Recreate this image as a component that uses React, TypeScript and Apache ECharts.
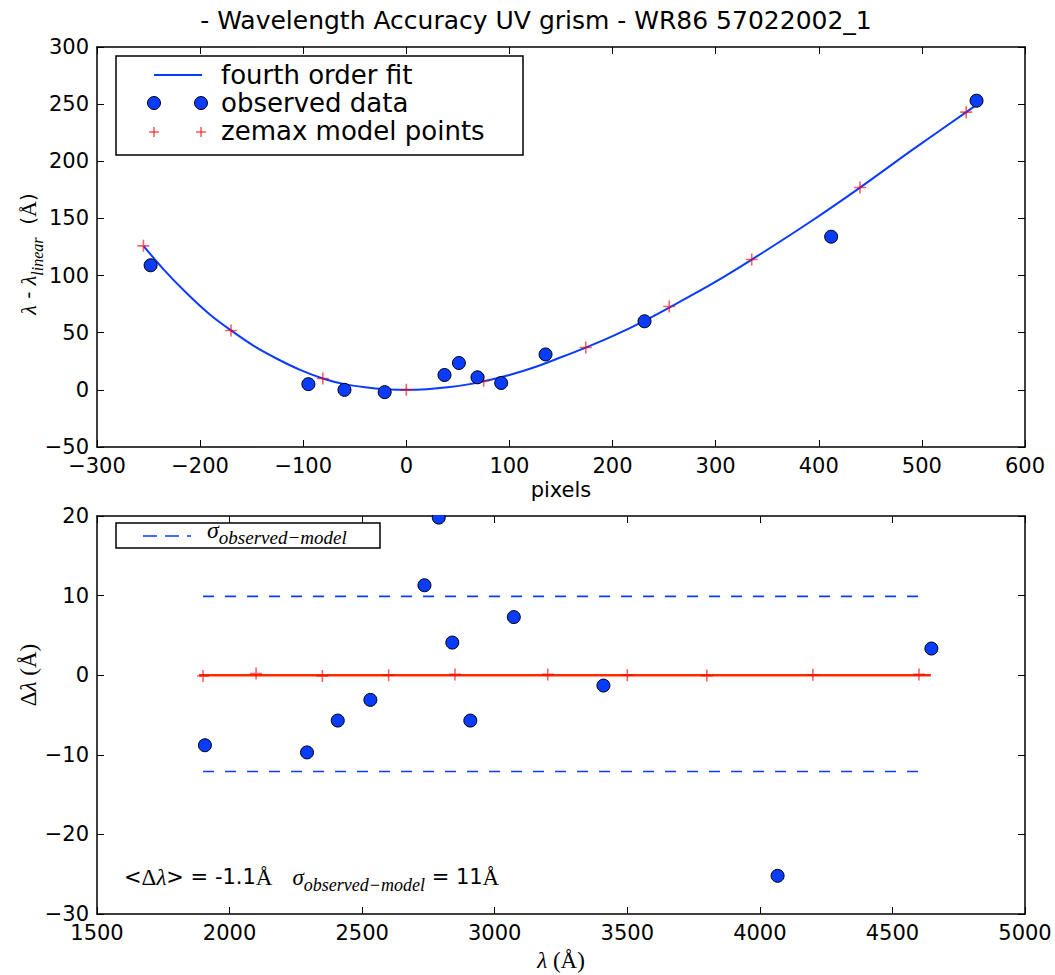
import React, { useEffect, useRef } from 'react';
import * as echarts from 'echarts';

// ---- top panel: pixel offset vs wavelength deviation ----
const fitX = [-255, -235, -213, -190, -170, -148, -125, -103, -81, -60, -40, -20, 0, 20, 40, 60, 75, 100, 125, 150, 174, 200, 230, 255, 295, 335, 390, 440, 490, 543, 551];
const fitY = [126, 105, 84.5, 65.5, 52, 38.5, 27, 17.5, 10, 5, 2.3, 0.6, 0, 0.6, 2.2, 4.8, 7.5, 13, 20, 28.5, 37, 47, 60, 72, 92, 114, 146, 177, 209.5, 243, 248];

const obsX = [-248, -95, -60, -21, 37, 51, 69, 92, 135, 231, 412, 553];
const obsY = [109, 5, 0, -2, 13, 23.5, 11, 6, 31, 60, 134, 253];

const zemX = [-255, -170, -81, 0, 75, 174, 255, 335, 440, 543];
const zemY = [126, 52, 10, 0, 8, 37, 73, 114, 177, 243];

// ---- bottom panel: residuals vs wavelength ----
const obsLambda = [1907, 2292, 2408, 2531, 2735, 2789, 2840, 2908, 3072, 3410, 4067, 4647];
const obsResid = [-8.8, -9.7, -5.7, -3.1, 11.3, 19.8, 4.1, -5.7, 7.3, -1.3, -25.2, 3.35];

const zemLambda = [1900, 2100, 2350, 2600, 2850, 3200, 3500, 3800, 4200, 4600];
const zemResid = [-0.1, 0.2, -0.1, 0, 0.1, 0.1, 0, -0.05, 0.05, 0.1];

const zeroLineX = [1885, 4645];
const zeroLineY = [0, 0];
const sigmaLineX = [1900, 4620];
const sigmaUpper = 9.9;
const sigmaLower = -12.1;

const BLUE = '#0a3cff';
const RED_PLUS = 'rgba(255,0,0,0.62)';
const PLUS = 'path://M0,5L10,5M5,0L5,10';
const SANS = 'DejaVu Sans';
const SERIF = 'Liberation Serif';

const zip = (xs: number[], ys: number[]) => xs.map((x, i) => [x, ys[i]]);
const minusFmt = (v: number) => (v < 0 ? '\u2212' + Math.abs(v) : String(v));

const richStyles = (size: number, subSize: number) => ({
  s: { fontFamily: SANS, fontSize: size, lineHeight: 34, color: '#000' },
  m: { fontFamily: SERIF, fontStyle: 'italic', fontSize: size + 2, lineHeight: 34, color: '#000' },
  r: { fontFamily: SERIF, fontSize: size + 2, lineHeight: 34, color: '#000' },
  sub: { fontFamily: SERIF, fontStyle: 'italic', fontSize: subSize, lineHeight: 17, verticalAlign: 'bottom', color: '#000' },
});

export default function App() {
  const ref = useRef<HTMLDivElement>(null);
  useEffect(() => {
    if (!ref.current) return;
    const chart = echarts.init(ref.current, undefined, { renderer: 'svg' });

    const axisBase = {
      type: 'value',
      axisLine: { show: true, onZero: false, lineStyle: { color: '#000', width: 1.5 } },
      axisTick: { show: true, inside: true, length: 7, lineStyle: { color: '#000', width: 1 } },
      splitLine: { show: false },
      axisLabel: { color: '#000', fontSize: 21, fontFamily: SANS, margin: 8, formatter: minusFmt },
    };
    const hidden = { axisLabel: { show: false } };

    const plusStyle = { color: 'none', borderColor: RED_PLUS, borderWidth: 1.6, opacity: 1 };
    const dotStyle = { color: BLUE, borderColor: '#000', borderWidth: 1, opacity: 1 };

    const option: any = {
      animation: false,
      backgroundColor: '#fff',
      grid: [
        { left: 97, top: 47, width: 928, height: 400 },
        { left: 97, top: 516, width: 928, height: 398 },
      ],
      xAxis: [
        { ...axisBase, gridIndex: 0, min: -300, max: 600, interval: 100, position: 'bottom' },
        { ...axisBase, ...hidden, gridIndex: 0, min: -300, max: 600, interval: 100, position: 'top' },
        { ...axisBase, gridIndex: 1, min: 1500, max: 5000, interval: 500, position: 'bottom' },
        { ...axisBase, ...hidden, gridIndex: 1, min: 1500, max: 5000, interval: 500, position: 'top' },
      ],
      yAxis: [
        { ...axisBase, gridIndex: 0, min: -50, max: 300, interval: 50, position: 'left' },
        { ...axisBase, ...hidden, gridIndex: 0, min: -50, max: 300, interval: 50, position: 'right' },
        { ...axisBase, gridIndex: 1, min: -30, max: 20, interval: 10, position: 'left' },
        { ...axisBase, ...hidden, gridIndex: 1, min: -30, max: 20, interval: 10, position: 'right' },
      ],
      series: [
        {
          name: 'fourth order fit', type: 'line', xAxisIndex: 0, yAxisIndex: 0,
          data: zip(fitX, fitY), smooth: 0.3, showSymbol: false, symbol: 'none',
          lineStyle: { color: BLUE, width: 2 }, z: 2,
        },
        {
          name: 'zemax model points', type: 'scatter', xAxisIndex: 0, yAxisIndex: 0,
          data: zip(zemX, zemY), symbol: PLUS, symbolSize: 12, itemStyle: plusStyle, z: 3,
        },
        {
          name: 'observed data', type: 'scatter', xAxisIndex: 0, yAxisIndex: 0,
          data: zip(obsX, obsY), symbol: 'circle', symbolSize: 13, itemStyle: dotStyle, z: 4,
        },
        {
          name: 'zero', type: 'line', xAxisIndex: 2, yAxisIndex: 2,
          data: zip(zeroLineX, zeroLineY), showSymbol: false, symbol: 'none',
          lineStyle: { color: '#ff2a00', width: 2.5 }, z: 2,
        },
        {
          name: 'sigma+', type: 'line', xAxisIndex: 2, yAxisIndex: 2,
          data: zip(sigmaLineX, sigmaLineX.map(() => sigmaUpper)), showSymbol: false, symbol: 'none',
          lineStyle: { color: BLUE, width: 1.6, type: [11, 11] }, z: 2,
        },
        {
          name: 'sigma-', type: 'line', xAxisIndex: 2, yAxisIndex: 2,
          data: zip(sigmaLineX, sigmaLineX.map(() => sigmaLower)), showSymbol: false, symbol: 'none',
          lineStyle: { color: BLUE, width: 1.6, type: [11, 11] }, z: 2,
        },
        {
          name: 'zemax resid', type: 'scatter', xAxisIndex: 2, yAxisIndex: 2,
          data: zip(zemLambda, zemResid), symbol: PLUS, symbolSize: 12, itemStyle: plusStyle, z: 3,
        },
        {
          name: 'observed resid', type: 'scatter', xAxisIndex: 2, yAxisIndex: 2,
          data: zip(obsLambda, obsResid), symbol: 'circle', symbolSize: 13, itemStyle: dotStyle, z: 4,
        },
      ],
      graphic: [
        // mask markers above bottom axes frame (matplotlib clipping)
        { type: 'rect', z: 100, shape: { x: 97, y: 503, width: 928, height: 12 }, style: { fill: '#fff' } },
        {
          type: 'text', x: 536, y: 20, z: 100,
          style: { text: '- Wavelength Accuracy UV grism - WR86 57022002_1', fontFamily: SANS, fontSize: 25, fill: '#000', align: 'center', verticalAlign: 'middle' },
        },
        {
          type: 'text', x: 561, y: 490, z: 100,
          style: { text: 'pixels', fontFamily: SANS, fontSize: 21, fill: '#000', align: 'center', verticalAlign: 'middle' },
        },
        {
          type: 'text', x: 28, y: 254, rotation: Math.PI / 2, z: 100,
          style: {
            text: '{m|λ}{s| - }{m|λ}{sub|linear}{s|  (}{r|Å}{s|)}', rich: richStyles(20, 16), align: 'center', verticalAlign: 'middle',
          },
        },
        {
          type: 'text', x: 28, y: 675, rotation: Math.PI / 2, z: 100,
          style: { text: '{r|Δ}{m|λ}{r| (Å)}', rich: richStyles(21, 17), align: 'center', verticalAlign: 'middle' },
        },
        {
          type: 'text', x: 561, y: 960, z: 100,
          style: { text: '{m|λ}{r| (Å)}', rich: richStyles(21, 17), align: 'center', verticalAlign: 'middle' },
        },
        {
          type: 'text', x: 124, y: 877, z: 100,
          style: {
            text: '{s|<}{r|Δ}{m|λ}{s|> = -1.1}{r|Å}{s|   }{m|σ}{sub|observed−model}{s| = 11}{r|Å}',
            rich: richStyles(21, 18), align: 'left', verticalAlign: 'middle',
          },
        },
        // top legend
        { type: 'rect', z: 100, shape: { x: 116, y: 56, width: 407, height: 99 }, style: { fill: '#fff', stroke: '#000', lineWidth: 1.5 } },
        { type: 'line', z: 101, shape: { x1: 154, y1: 75, x2: 202, y2: 75 }, style: { stroke: BLUE, lineWidth: 2 } },
        { type: 'circle', z: 101, shape: { cx: 154, cy: 103, r: 6.5 }, style: { fill: BLUE, stroke: '#000', lineWidth: 1 } },
        { type: 'circle', z: 101, shape: { cx: 201, cy: 103, r: 6.5 }, style: { fill: BLUE, stroke: '#000', lineWidth: 1 } },
        { type: 'line', z: 101, shape: { x1: 149, y1: 132, x2: 159, y2: 132 }, style: { stroke: RED_PLUS, lineWidth: 1.6 } },
        { type: 'line', z: 101, shape: { x1: 154, y1: 127, x2: 154, y2: 137 }, style: { stroke: RED_PLUS, lineWidth: 1.6 } },
        { type: 'line', z: 101, shape: { x1: 196, y1: 132, x2: 206, y2: 132 }, style: { stroke: RED_PLUS, lineWidth: 1.6 } },
        { type: 'line', z: 101, shape: { x1: 201, y1: 127, x2: 201, y2: 137 }, style: { stroke: RED_PLUS, lineWidth: 1.6 } },
        { type: 'text', z: 101, x: 221, y: 75, style: { text: 'fourth order fit', fontFamily: SANS, fontSize: 26, fill: '#000', verticalAlign: 'middle' } },
        { type: 'text', z: 101, x: 221, y: 103, style: { text: 'observed data', fontFamily: SANS, fontSize: 26, fill: '#000', verticalAlign: 'middle' } },
        { type: 'text', z: 101, x: 221, y: 131, style: { text: 'zemax model points', fontFamily: SANS, fontSize: 26, fill: '#000', verticalAlign: 'middle' } },
        // bottom legend
        { type: 'rect', z: 100, shape: { x: 116, y: 523, width: 264, height: 25 }, style: { fill: '#fff', stroke: '#000', lineWidth: 1.5 } },
        { type: 'line', z: 101, shape: { x1: 143, y1: 536, x2: 191, y2: 536 }, style: { stroke: BLUE, lineWidth: 1.6, lineDash: [14, 8] } },
        {
          type: 'text', z: 101, x: 207, y: 530,
          style: { text: '{m|σ}{sub|observed−model}', rich: richStyles(22, 19), align: 'left', verticalAlign: 'middle' },
        },
      ],
    };
    chart.setOption(option);
    return () => chart.dispose();
  }, []);
  return <div ref={ref} style={{ position: 'absolute', left: 0, top: 0, width: 1055, height: 975 }} />;
}
